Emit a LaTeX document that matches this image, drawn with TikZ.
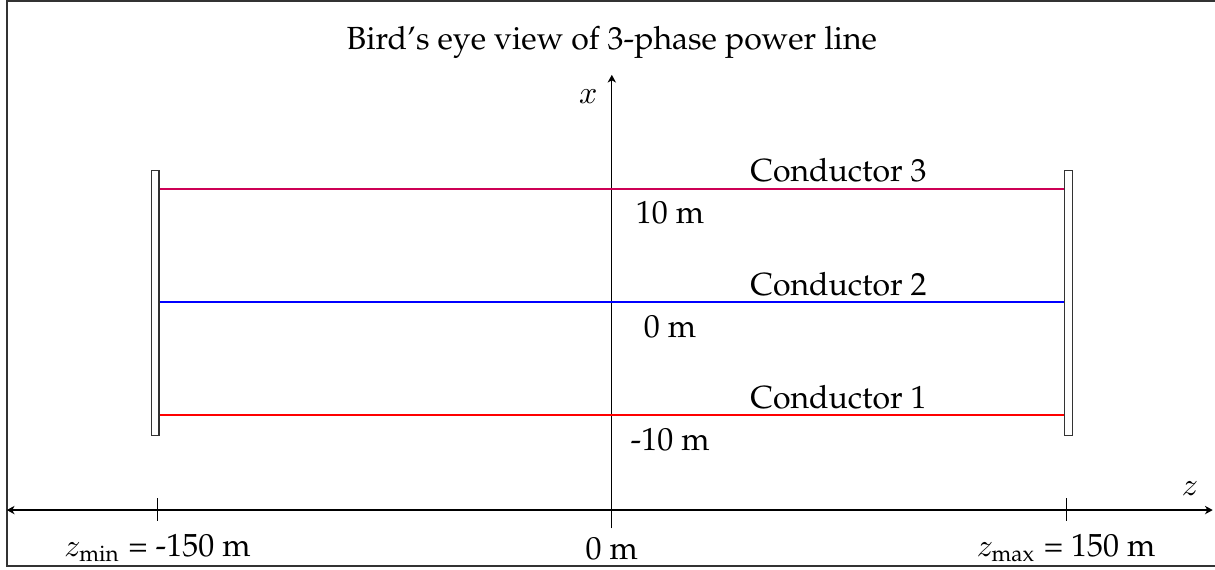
\documentclass[tikz,border=0pt]{standalone}
\usepackage[T1]{fontenc}
\usepackage{palatino}
\usepackage{amsmath}
\usetikzlibrary{arrows.meta, positioning}
\definecolor{wirethree}{RGB}{205,0,85}

\begin{document}
\begin{tikzpicture}[
    >={Stealth[length=2.4pt, width=2.6pt, inset=0.7pt]},
    font=\normalsize,
    axis/.style={->, thin},
    tick/.style={thin},
    pole/.style={rectangle, draw=black!80, fill=white, minimum width=0.85mm, minimum height=29.1mm, inner sep=0pt},
    wire/.style={semithick},
    lbl/.style={inner sep=1pt}
]
\useasboundingbox (-6.72,-0.648) rectangle (6.625,5.602);
% frame
\draw[black!80, semithick] (6.62,-0.615) -- (-6.645,-0.615) -- (-6.645,5.595) -- (6.62,5.595);
\node (title) at (0,5.14) {Bird's eye view of 3-phase power line};

% axes
\coordinate (zL) at (-6.645,0);
\coordinate (zR) at (6.6,0);
\coordinate (xB) at (0,-0.2);
\coordinate (xT) at (0,4.78);
\draw[axis, <->] (zL) -- (zR);
\draw[axis] (xB) -- (xT);
\node (xlab) at (-0.26,4.54) {$x$};
\node (zlab) at (6.35,0.24) {$z$};

% ticks
\coordinate (tL) at (-4.99,0);
\coordinate (tR) at (4.99,0);
\draw[tick] ([yshift=1.3mm]tL) -- ([yshift=-1.2mm]tL);
\draw[tick] ([yshift=1.3mm]tR) -- ([yshift=-1.2mm]tR);
\node (zmin) at (-4.99,-0.42) {$z_{\text{min}}$ = -150 m};
\node (zero) at (0,-0.42) {0 m};
\node (zmax) at (4.99,-0.42) {$z_{\text{max}}$ = 150 m};

% poles
\node[pole] (poleL) at (-5.017,2.275) {};
\node[pole] (poleR) at (5.017,2.275) {};

% conductors
\foreach \i/\y/\m/\col in {1/1.043/-10/red, 2/2.285/0/blue, 3/3.53/10/wirethree} {
    \coordinate (wL\i) at (poleL.east |- 0,\y);
    \coordinate (wR\i) at (poleR.west |- 0,\y);
    \draw[wire, \col] (wL\i) -- (wR\i);
    \node[lbl] (cond\i) at (2.49,\y+0.2) {Conductor \i};
    \node[lbl] (pos\i) at (0.64,\y-0.27) {\m\ m};
}
\end{tikzpicture}
\end{document}
